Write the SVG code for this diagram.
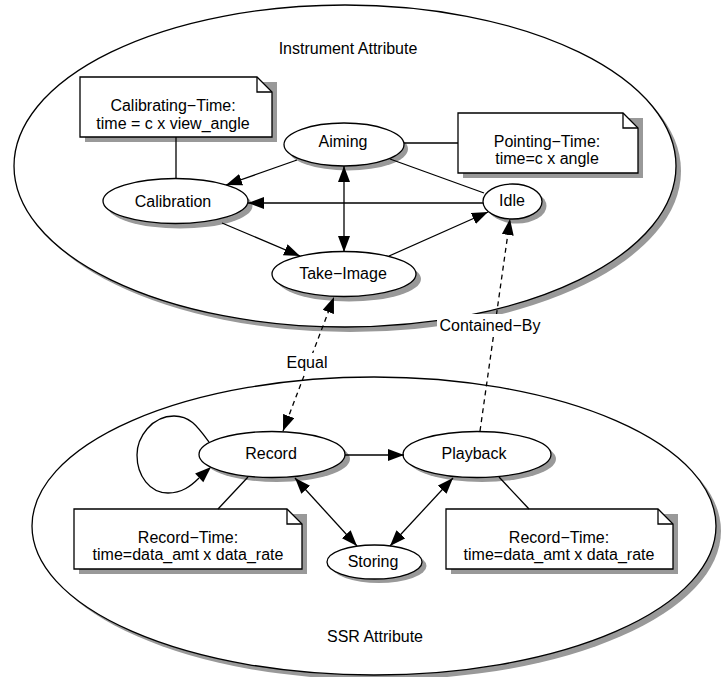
<svg xmlns="http://www.w3.org/2000/svg" width="727" height="677" viewBox="0 0 727 677">
<style>
text{font-family:"Liberation Sans",Arial,Helvetica,sans-serif;font-size:16px;fill:#000;text-anchor:middle}
.sh{fill:#999;stroke:none}
.nd{fill:#fff;stroke:#000;stroke-width:1.3}
.e{fill:none;stroke:#000;stroke-width:1.3}
.a{marker-end:url(#arr)}
.b{marker-start:url(#arr);marker-end:url(#arr)}
.d{stroke-dasharray:5,4}
.lb{fill:#fff;stroke:none}
.ah{fill:#000;stroke:none}
</style>
<defs>
<marker id="arr" viewBox="0 0 16 12" refX="16" refY="6" markerWidth="16" markerHeight="12" markerUnits="userSpaceOnUse" orient="auto-start-reverse">
<path d="M0,0 L16,6 L0,12 z" fill="#000"/>
</marker>
</defs>
<rect width="727" height="677" fill="#fff"/>

<g id="instrument-attribute">
<ellipse class="sh" cx="350" cy="171" rx="331" ry="161"/>
<ellipse class="nd" cx="345" cy="166" rx="331" ry="161"/>
<text x="348" y="54">Instrument Attribute</text>
</g>
<g id="ssr-attribute">
<ellipse class="sh" cx="379" cy="531" rx="342" ry="149"/>
<ellipse class="nd" cx="374" cy="526" rx="342" ry="149"/>
<text x="375" y="642">SSR Attribute</text>
</g>

<g id="calibrating-time">
<path class="sh" d="M85,82 H277 V142 H85 z"/>
<path class="nd" d="M80,77 H257 L272,92 V137 H80 z"/>
<path class="e" d="M257,77 V92 H272"/>
<text x="173" y="111">Calibrating−Time:</text>
<text x="173" y="128.5">time = c x view_angle</text>
</g>
<g id="pointing-time">
<path class="sh" d="M463,118 H643 V178 H463 z"/>
<path class="nd" d="M458,113 H623 L638,128 V173 H458 z"/>
<path class="e" d="M623,113 V128 H638"/>
<text x="547" y="147">Pointing−Time:</text>
<text x="547" y="164">time=c x angle</text>
</g>
<g id="record-time-1">
<path class="sh" d="M79,514 H307 V574 H79 z"/>
<path class="nd" d="M74,509 H287 L302,524 V569 H74 z"/>
<path class="e" d="M287,509 V524 H302"/>
<text x="188" y="542.5">Record−Time:</text>
<text x="188" y="559.5">time=data_amt x data_rate</text>
</g>
<g id="record-time-2">
<path class="sh" d="M451,514 H678 V574 H451 z"/>
<path class="nd" d="M446,509 H658 L673,524 V569 H446 z"/>
<path class="e" d="M658,509 V524 H673"/>
<text x="559" y="542.5">Record−Time:</text>
<text x="559" y="559.5">time=data_amt x data_rate</text>
</g>

<g id="aiming">
<ellipse class="sh" cx="348" cy="149" rx="60" ry="21.5"/>
<ellipse class="nd" cx="344" cy="144.5" rx="60" ry="21.5"/>
<text x="343" y="147">Aiming</text>
</g>
<g id="calibration">
<ellipse class="sh" cx="180" cy="206" rx="72.5" ry="22.5"/>
<ellipse class="nd" cx="175.5" cy="201" rx="72.5" ry="22.5"/>
<text x="173" y="206.5">Calibration</text>
</g>
<g id="take-image">
<ellipse class="sh" cx="349" cy="279" rx="72" ry="22.5"/>
<ellipse class="nd" cx="344" cy="274" rx="72" ry="22.5"/>
<text x="343" y="278.5">Take−Image</text>
</g>
<g id="idle">
<ellipse class="sh" cx="517" cy="206" rx="29.5" ry="17.5"/>
<ellipse class="nd" cx="512.5" cy="201.5" rx="29.5" ry="17.5"/>
<text x="512" y="206">Idle</text>
</g>
<g id="record">
<ellipse class="sh" cx="277" cy="459" rx="73" ry="23"/>
<ellipse class="nd" cx="272" cy="454.5" rx="73" ry="23"/>
<text x="271" y="458.5">Record</text>
</g>
<g id="playback">
<ellipse class="sh" cx="482" cy="459" rx="74" ry="23"/>
<ellipse class="nd" cx="477" cy="454.5" rx="74" ry="23"/>
<text x="474" y="458.5">Playback</text>
</g>
<g id="storing">
<ellipse class="sh" cx="379" cy="566" rx="47.5" ry="17"/>
<ellipse class="nd" cx="374.5" cy="562" rx="47.5" ry="17"/>
<text x="373" y="566.5">Storing</text>
</g>

<g id="connectors">
<line class="e a" x1="297" y1="160" x2="226" y2="185"/>
<line class="e a" x1="483" y1="203" x2="248" y2="203"/>
<line class="e b" x1="344" y1="166" x2="344" y2="252"/>
<line class="e a" x1="222" y1="223" x2="300" y2="256"/>
<line class="e a" x1="389" y1="256" x2="488" y2="212"/>
<line class="e" x1="390" y1="159" x2="484" y2="193"/>
<line class="e a" x1="345" y1="455" x2="404" y2="455"/>
<line class="e b" x1="295" y1="478" x2="357" y2="546"/>
<line class="e b" x1="453" y1="478" x2="390" y2="546"/>
<path class="e" d="M209,442 C197,426 190,416 174,416 C152,416 137,437 137,455 C137,476 150,493 168,493 C182,493 191,486 199,478"/>
<path class="ah" d="M211,467 L203.3,482.2 L195.1,473.4 z"/>
<line class="e d b" x1="283" y1="431" x2="334" y2="297"/>
<line class="e d a" x1="480" y1="431" x2="510" y2="219"/>
<line class="e" x1="176" y1="137" x2="176" y2="178.5"/>
<line class="e" x1="404" y1="143" x2="458" y2="143"/>
<line class="e" x1="248" y1="477" x2="218" y2="509"/>
<line class="e" x1="499" y1="477" x2="529" y2="509"/>
<rect class="lb" x="437" y="314" width="106" height="23"/>
<text x="490" y="331">Contained−By</text>
<rect class="lb" x="284" y="353" width="46" height="20"/>
<text x="307" y="368">Equal</text>
</g>
</svg>
